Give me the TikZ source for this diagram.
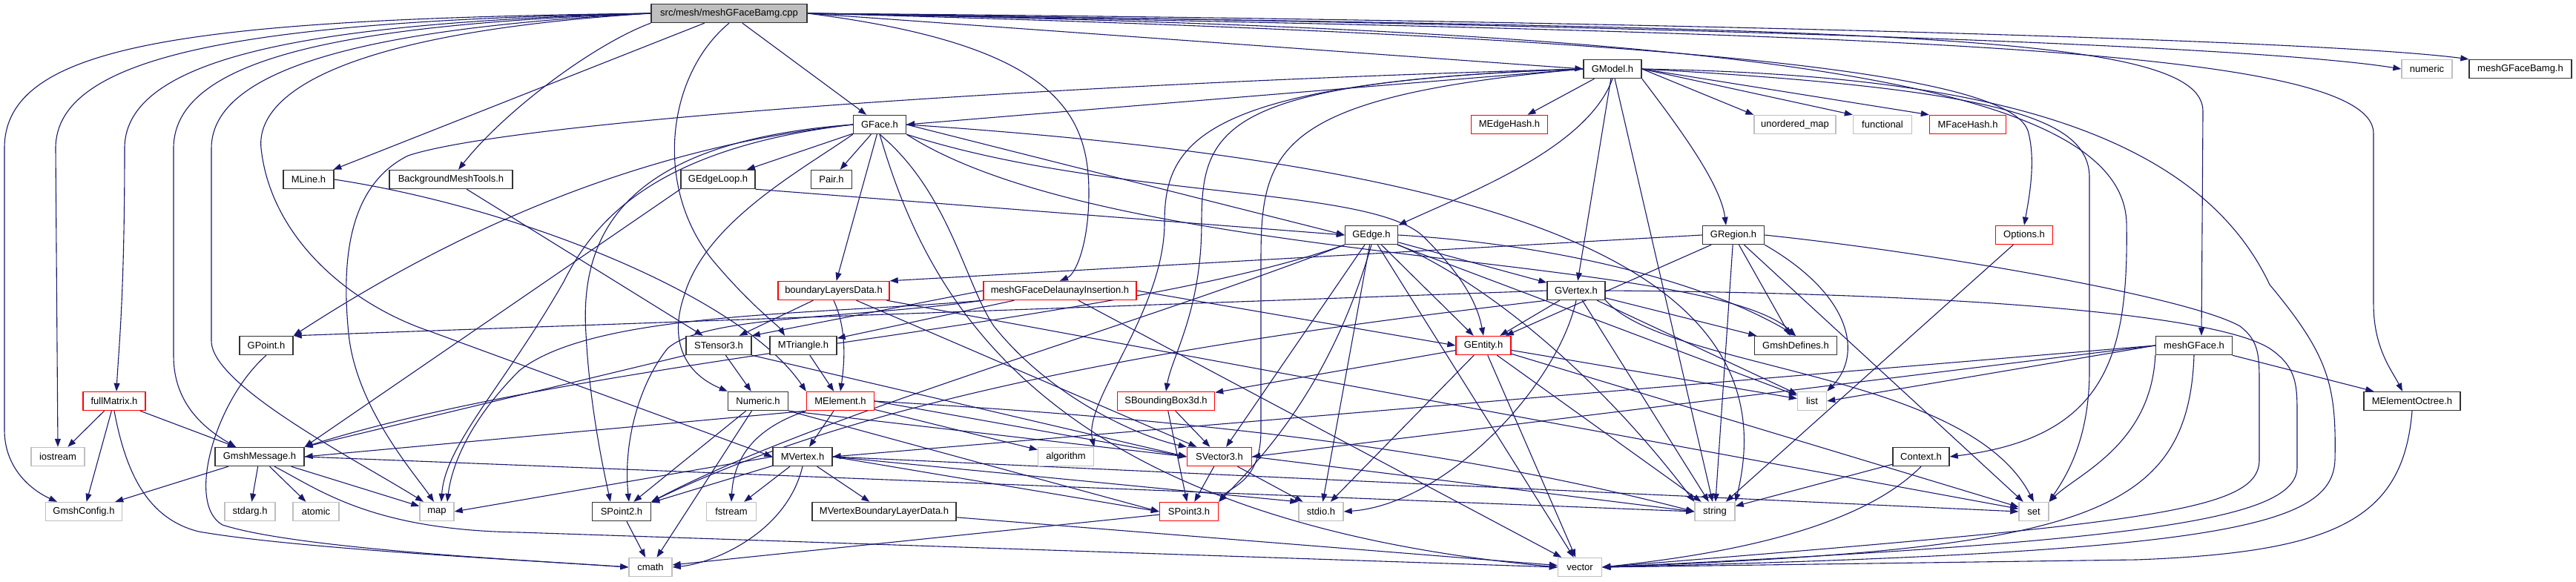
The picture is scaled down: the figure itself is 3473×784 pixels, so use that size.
\documentclass[tikz,border=0pt]{standalone}
\usepackage{fontspec}
\setmainfont{Liberation Sans}
\usetikzlibrary{arrows.meta,backgrounds}
\definecolor{edgec}{HTML}{191970}
\definecolor{grayb}{HTML}{BFBFBF}
\definecolor{redb}{HTML}{FF0000}
\begin{document}
\begin{tikzpicture}[x=1pt,y=-1pt,
  box/.style={draw, line width=1.4pt, minimum height=25pt, inner sep=0pt, fill=white, font=\fontsize{13}{15}\selectfont},
  hb/.style={box, draw=black!80},
  hr/.style={box, draw=redb},
  hg/.style={box, draw=grayb},
  hroot/.style={box, draw=black!80, fill=grayb},
  e/.style={draw=edgec, line width=1.1pt, -{Triangle[length=11pt,width=8pt]}}
]
\useasboundingbox (0,0) rectangle (3473,784);
% nodes
\node[hroot, minimum width=210pt] (root) at (983,18) {src/mesh/meshGFaceBamg.cpp};
\node[hb, minimum width=78pt] (gmodel) at (2174,93) {GModel.h};
\node[hg, minimum width=68pt] (numeric) at (3272,93) {numeric};
\node[hb, minimum width=138pt] (mgfb) at (3398,93) {meshGFaceBamg.h};
\node[hb, minimum width=71pt] (gface) at (1186,168) {GFace.h};
\node[hr, minimum width=103pt] (medgehash) at (2035,168) {MEdgeHash.h};
\node[hg, minimum width=110pt] (umap) at (2420,168) {unordered\_map};
\node[hg, minimum width=79pt] (functional) at (2538,168) {functional};
\node[hr, minimum width=103pt] (mfacehash) at (2653,168) {MFaceHash.h};
\node[hb, minimum width=68pt] (mline) at (416,242) {MLine.h};
\node[hb, minimum width=166pt] (bmt) at (608,242) {BackgroundMeshTools.h};
\node[hb, minimum width=100pt] (gedgeloop) at (968,242) {GEdgeLoop.h};
\node[hb, minimum width=55pt] (pair) at (1121,242) {Pair.h};
\node[hb, minimum width=71pt] (gedge) at (1849,317) {GEdge.h};
\node[hb, minimum width=83pt] (gregion) at (2337,317) {GRegion.h};
\node[hr, minimum width=77pt] (options) at (2729,317) {Options.h};
\node[hr, minimum width=150pt] (bld) at (1124,392) {boundaryLayersData.h};
\node[hr, minimum width=206pt] (di) at (1429,392) {meshGFaceDelaunayInsertion.h};
\node[hb, minimum width=78pt] (gvertex) at (2125,392) {GVertex.h};
\node[hb, minimum width=72pt] (gpoint) at (359,466) {GPoint.h};
\node[hb, minimum width=88pt] (stensor) at (969,466) {STensor3.h};
\node[hb, minimum width=90pt] (mtriangle) at (1083,466) {MTriangle.h};
\node[hr, minimum width=74pt] (gentity) at (2000,466) {GEntity.h};
\node[hb, minimum width=111pt] (gdefines) at (2421,466) {GmshDefines.h};
\node[hb, minimum width=103pt] (mgface) at (2958,466) {meshGFace.h};
\node[hr, minimum width=84pt] (fullmatrix) at (154,541) {fullMatrix.h};
\node[hb, minimum width=81pt] (numericH) at (1022,541) {Numeric.h};
\node[hr, minimum width=91pt] (melement) at (1133,541) {MElement.h};
\node[hr, minimum width=131pt] (sbb) at (1572,541) {SBoundingBox3d.h};
\node[hg, minimum width=39pt] (nlist) at (2443,541) {list};
\node[hb, minimum width=130pt] (meoct) at (3252,541) {MElementOctree.h};
\node[hg, minimum width=72pt] (iostream) at (78,616) {iostream};
\node[hb, minimum width=120pt] (gmsg) at (350,616) {GmshMessage.h};
\node[hb, minimum width=80pt] (mvertex) at (1082,616) {MVertex.h};
\node[hg, minimum width=75pt] (algorithm) at (1437,616) {algorithm};
\node[hr, minimum width=87pt] (svector) at (1644,616) {SVector3.h};
\node[hb, minimum width=76pt] (context) at (2590,616) {Context.h};
\node[hg, minimum width=103pt] (gconfig) at (113,690) {GmshConfig.h};
\node[hg, minimum width=68pt] (stdarg) at (337,690) {stdarg.h};
\node[hg, minimum width=62pt] (atomic) at (426,690) {atomic};
\node[hg, minimum width=46pt] (nmap) at (589,690) {map};
\node[hb, minimum width=79pt] (spoint2) at (838,690) {SPoint2.h};
\node[hg, minimum width=67pt] (fstream) at (986,690) {fstream};
\node[hb, minimum width=194pt] (mvbld) at (1192,690) {MVertexBoundaryLayerData.h};
\node[hr, minimum width=79pt] (spoint3) at (1603,690) {SPoint3.h};
\node[hg, minimum width=60pt] (stdio) at (1781,690) {stdio.h};
\node[hg, minimum width=54pt] (nstring) at (2312,690) {string};
\node[hg, minimum width=40pt] (nset) at (2742,690) {set};
\node[hg, minimum width=58pt] (cmath) at (877,765) {cmath};
\node[hg, minimum width=59pt] (nvector) at (2130,765) {vector};

\begin{pgfonlayer}{background}
% root
\draw[e] (root.west) .. controls (250,26) and (6,60) .. (6,200) -- (6,580) .. controls (6,630) and (40,660) .. ([xshift=-36pt]gconfig.north);
\draw[e] (root.west) .. controls (350,28) and (75,70) .. (75,200) -- (iostream.north);
\draw[e] (root.west) .. controls (450,30) and (168,70) .. (168,200) .. controls (168,400) and (160,470) .. ([xshift=3pt]fullmatrix.north);
\draw[e] (root.west) .. controls (500,32) and (234,70) .. (234,200) -- (234,480) .. controls (234,540) and (270,575) .. ([xshift=-32pt]gmsg.north);
\draw[e] (root.west) .. controls (550,35) and (285,80) .. (285,200) -- (285,460) .. controls (285,520) and (480,620) .. ([xshift=-18pt]nmap.north);
\draw[e] (root.west) .. controls (450,45) and (345,130) .. (352,200) .. controls (365,320) and (470,410) .. (580,447) -- (mvertex.west);
\draw[e] (root) -- (mline);
\draw[e] (root.south west) .. controls (800,60) and (680,150) .. ([xshift=10pt]bmt.north);
\draw[e] (root.south) .. controls (900,100) and (880,250) .. (960,350) .. controls (1010,410) and (1050,440) .. ([xshift=-25pt]mtriangle.north);
\draw[e] (root) -- (gface);
\draw[e] (root.east) .. controls (1420,60) and (1468,150) .. (1468,260) .. controls (1468,330) and (1450,370) .. (di.north);
\draw[e] (root.east) -- (gmodel.west);
\draw[e] (root.east) .. controls (2000,30) and (3000,55) .. (numeric.west);
\draw[e] (root.east) .. controls (2000,25) and (3100,50) .. (mgfb.north west);
\draw[e] (root.east) .. controls (2500,40) and (2970,40) .. (2970,150) -- ([xshift=10pt]mgface.north);
\draw[e] (root.east) .. controls (2500,45) and (3200,60) .. (3200,180) -- (3200,410) .. controls (3200,470) and (3225,500) .. ([xshift=-13pt]meoct.north);
\draw[e] (root.east) .. controls (2300,40) and (2860,100) .. (2867,300) .. controls (2870,480) and (2840,590) .. (context.east);
\draw[e] (root.east) .. controls (2300,50) and (2720,100) .. (2735,180) .. controls (2745,220) and (2735,270) .. (options.north);
% fullMatrix
\draw[e] (fullmatrix) -- (iostream);
\draw[e] (fullmatrix) -- (gconfig);
\draw[e] (fullmatrix) -- ([xshift=-32pt]gmsg.north);
\draw[e] (fullmatrix.south) .. controls (170,640) and (200,700) .. (268,717) .. controls (400,740) and (700,755) .. (cmath.west);
% GPoint
\draw[e] (gpoint.south) .. controls (290,540) and (250,680) .. (300,708) .. controls (400,740) and (700,755) .. (cmath.west);
% GmshMessage
\draw[e] (gmsg) -- (gconfig);
\draw[e] (gmsg) -- (stdarg);
\draw[e] (gmsg) -- (atomic);
\draw[e] (gmsg) -- (nmap);
\draw[e] (gmsg.east) -- (nstring.west);
\draw[e] ([xshift=20pt]gmsg.south) .. controls (430,660) and (500,715) .. (700,718) -- (nvector.west);
% GEdgeLoop, BMT, MLine
\draw[e] (gedgeloop.south east) -- (gedge.west);
\draw[e] (gedgeloop.south west) -- (gmsg.north east);
\draw[e] (bmt) -- (stensor);
\draw[e] (mline.east) .. controls (700,280) and (1000,400) .. (melement.north west);
% GFace
\draw[e] (gface) -- (gedgeloop);
\draw[e] (gface) -- (pair);
\draw[e] (gface) -- (bld);
\draw[e] (gface.west) .. controls (850,200) and (600,320) .. (gpoint.north east);
\draw[e] (gface.west) .. controls (880,200) and (800,300) .. (760,380) .. controls (680,520) and (600,600) .. ([xshift=6pt]nmap.north);
\draw[e] (gface.west) .. controls (860,190) and (780,300) .. (790,450) .. controls (795,550) and (815,640) .. ([xshift=-15pt]spoint2.north);
\draw[e] (gface.east) -- (gedge.west);
\draw[e] (gface.south east) .. controls (1500,270) and (1850,250) .. (1920,320) .. controls (1960,360) and (1990,400) .. (gentity.north);
\draw[e] (gface.south east) .. controls (1500,360) and (2300,340) .. (gdefines.north);
\draw[e] (gface.south) .. controls (1280,260) and (1300,380) .. (1340,440) .. controls (1420,540) and (1540,590) .. (svector.north west);
\draw[e] (gface.south west) .. controls (1080,230) and (950,300) .. (922,400) .. controls (905,450) and (915,500) .. (numericH.north west);
\draw[e] (gface.south) .. controls (1250,400) and (1400,700) .. (nvector.west);
\draw[e] (gface.east) .. controls (2000,220) and (2420,350) .. (nstring.north east);
% GModel
\draw[e] (gmodel.west) -- (gface.east);
\draw[e] (gmodel.south) .. controls (2140,200) and (1980,260) .. (gedge.north east);
\draw[e] (gmodel) -- (medgehash);
\draw[e] (gmodel) -- (gvertex);
\draw[e] (gmodel.south east) .. controls (2270,180) and (2320,250) .. ([xshift=-10pt]gregion.north);
\draw[e] (gmodel.east) -- (umap.north west);
\draw[e] (gmodel.east) -- (functional.north west);
\draw[e] (gmodel.east) -- (mfacehash.north west);
\draw[e] (gmodel.west) .. controls (1720,130) and (1700,200) .. (1700,350) -- (1700,580) .. controls (1700,650) and (1660,655) .. (spoint3.north east);
\draw[e] (gmodel.west) .. controls (1650,110) and (1620,170) .. (1620,300) .. controls (1620,420) and (1580,480) .. (sbb.north);
\draw[e] (gmodel.west) .. controls (1620,110) and (1570,190) .. (1570,300) .. controls (1570,420) and (1460,540) .. (algorithm.north east);
\draw[e] (gmodel.west) .. controls (1500,110) and (700,160) .. (550,210) .. controls (470,250) and (460,350) .. (470,450) .. controls (480,550) and (560,640) .. ([xshift=-4pt]nmap.north);
\draw[e] (gmodel.east) .. controls (2700,120) and (2817,160) .. (2817,240) -- (2817,500) .. controls (2817,600) and (2780,650) .. (nset.north east);
\draw[e] (gmodel) -- (nstring);
\draw[e] (gmodel.east) .. controls (2600,100) and (2950,150) .. (3060,384) .. controls (3140,480) and (3150,520) .. (3148,620) .. controls (3145,710) and (3000,745) .. (nvector.east);
% GEdge
\draw[e] (gedge) -- (gentity);
\draw[e] (gedge) -- (gvertex);
\draw[e] (gedge) -- (stdio);
\draw[e] (gedge) -- (nvector);
\draw[e] (gedge.south) .. controls (1800,500) and (1720,600) .. (spoint3.north east);
\draw[e] (gedge) -- (svector);
\draw[e] (gedge.south west) .. controls (1500,450) and (1100,560) .. (spoint2.north east);
\draw[e] (gedge.south west) .. controls (1500,440) and (800,480) .. (gmsg.north east);
\draw[e] (gedge.east) .. controls (2100,330) and (2300,380) .. (gdefines.north);
\draw[e] (gedge) -- (nlist);
\draw[e] (gedge.south east) .. controls (2000,380) and (2150,500) .. (nstring.north west);
% GVertex
\draw[e] (gvertex) -- (gentity);
\draw[e] (gvertex.west) -- (gpoint.north east);
\draw[e] (gvertex.south west) .. controls (1700,450) and (1200,520) .. (spoint2.north east);
\draw[e] (gvertex) -- (gdefines);
\draw[e] (gvertex) -- (nlist);
\draw[e] (gvertex) -- (nstring);
\draw[e] (gvertex.south east) .. controls (2250,500) and (2650,500) .. (nset.north);
\draw[e] (gvertex.south) .. controls (2100,520) and (1950,680) .. (stdio.east);
\draw[e] (gvertex.east) .. controls (2600,395) and (2980,420) .. (3060,470) .. controls (3097,495) and (3097,520) .. (3097,560) -- (3097,630) .. controls (3097,700) and (2900,730) .. (nvector.east);
% GRegion
\draw[e] (gregion.west) -- (bld.north east);
\draw[e] (gregion) -- (gentity);
\draw[e] (gregion) -- (gdefines);
\draw[e] (gregion.south east) .. controls (2500,400) and (2510,480) .. (nlist.north east);
\draw[e] (gregion) -- (nset);
\draw[e] (gregion) -- (nstring);
\draw[e] (gregion.east) .. controls (2600,340) and (2950,400) .. (3020,440) .. controls (3046,460) and (3046,480) .. (3046,520) -- (3046,620) .. controls (3046,690) and (2900,705) .. (nvector.east);
% Options, Context
\draw[e] (options) -- (nstring);
\draw[e] (context) -- (nstring);
\draw[e] (context.south) .. controls (2500,720) and (2300,750) .. (nvector.east);
% meshGFace
\draw[e] (mgface.west) -- (mvertex.east);
\draw[e] (mgface.west) -- (nlist.east);
\draw[e] (mgface.west) -- (svector.east);
\draw[e] (mgface.south west) .. controls (2900,600) and (2800,640) .. (nset.north east);
\draw[e] (mgface.south) .. controls (2950,700) and (2800,740) .. (nvector.east);
\draw[e] (mgface) -- (meoct);
\draw[e] (meoct.south) .. controls (3240,700) and (3150,745) .. (2880,755) -- (nvector.east);
% GEntity
\draw[e] (gentity) -- (sbb);
\draw[e] (gentity) -- (stdio);
\draw[e] (gentity) -- (nvector);
\draw[e] (gentity) -- (nstring);
\draw[e] (gentity) -- (nset);
\draw[e] (gentity) -- (nlist);
% boundaryLayersData
\draw[e] (bld) -- (stensor);
\draw[e] (bld.south) .. controls (1140,440) and (1140,480) .. (melement.north);
\draw[e] (bld) -- (svector);
\draw[e] (bld) -- (nset);
% meshGFaceDelaunayInsertion
\draw[e] (di) -- (mtriangle);
\draw[e] (di.west) -- (stensor.north east);
\draw[e] (di.south west) .. controls (1150,430) and (950,425) .. (900,470) .. controls (860,520) and (840,600) .. ([xshift=10pt]spoint2.north);
\draw[e] (di.south west) .. controls (1100,425) and (800,420) .. (700,500) .. controls (640,560) and (610,620) .. ([xshift=14pt]nmap.north);
\draw[e] (di.east) -- (gentity.west);
\draw[e] (di) -- (nvector);
% STensor3, MTriangle
\draw[e] (stensor) -- (numericH);
\draw[e] (stensor.south west) -- (gmsg.north east);
\draw[e] (stensor.south east) -- (svector.west);
\draw[e] (mtriangle) -- (melement);
% Numeric
\draw[e] (numericH) -- (spoint2);
\draw[e] (numericH) -- (cmath);
\draw[e] (numericH.south east) -- (spoint3.west);
\draw[e] (numericH.south east) -- (svector.west);
% MElement
\draw[e] (melement) -- (mvertex);
\draw[e] (melement.south west) .. controls (1040,570) and (990,600) .. (fstream.north);
\draw[e] (melement) -- (algorithm);
\draw[e] (melement.east) -- (svector.west);
\draw[e] (melement.east) .. controls (1500,560) and (1900,590) .. (nstring.west);
\draw[e] (melement.south west) -- (gmsg.east);
% MVertex
\draw[e] (mvertex.west) -- (nmap.east);
\draw[e] (mvertex) -- (spoint2);
\draw[e] (mvertex) -- (fstream);
\draw[e] (mvertex.south) .. controls (1060,720) and (960,760) .. (cmath.east);
\draw[e] (mvertex) -- (mvbld);
\draw[e] (mvertex.east) -- (spoint3.west);
\draw[e] (mvertex.east) -- (stdio.north west);
\draw[e] (mvertex.east) -- (nset.west);
% SBoundingBox3d, SVector3, SPoint3, SPoint2, MVBLD
\draw[e] (sbb) -- (spoint3);
\draw[e] (sbb) -- (svector);
\draw[e] (svector) -- (spoint3);
\draw[e] (svector) -- (stdio);
\draw[e] (svector.east) -- (nstring.west);
\draw[e] (spoint3) -- (cmath);
\draw[e] (spoint2) -- (cmath);
\draw[e] (mvbld) -- (nvector);
\end{pgfonlayer}
\end{tikzpicture}
\end{document}
